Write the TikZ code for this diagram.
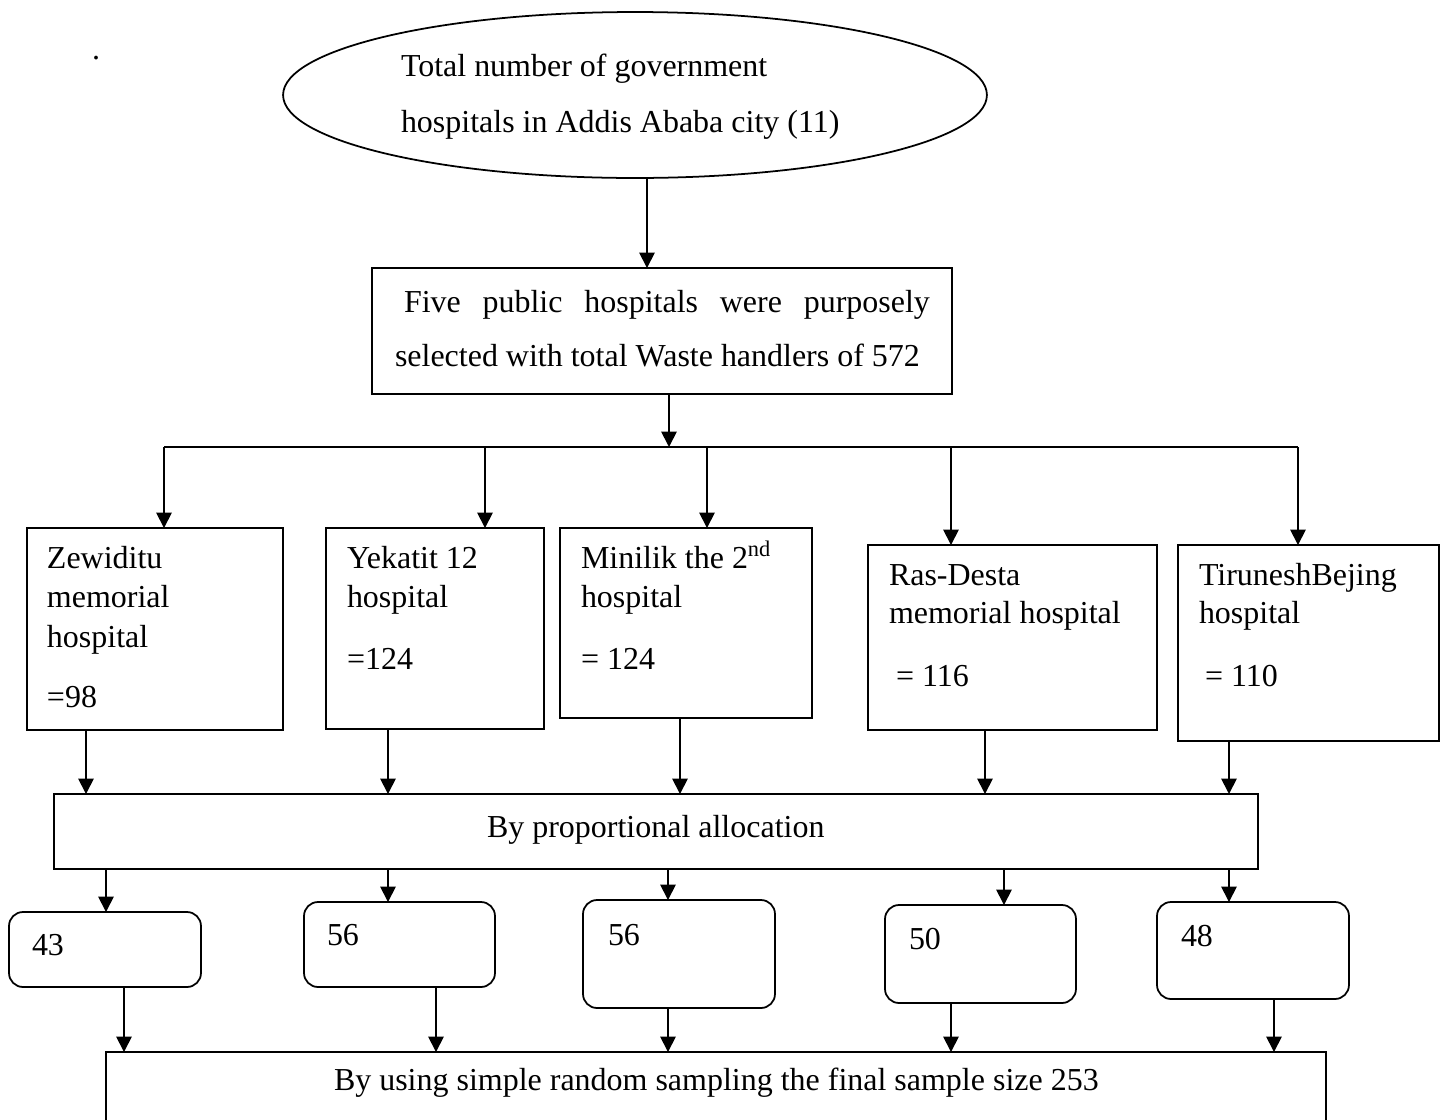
\documentclass[tikz,border=0pt]{standalone}
\usepackage{fontspec}
\setmainfont{Liberation Serif}
\usetikzlibrary{arrows.meta,shapes.geometric}
\tikzset{
  box/.style={draw, line width=1pt, inner sep=0pt, outer sep=0pt},
  rbox/.style={box, rounded corners=0.28cm},
  ebox/.style={draw, line width=1pt, ellipse, inner sep=0pt, outer sep=0pt},
  lbl/.style={anchor=base west, inner sep=0pt, outer sep=0pt, font=\fontsize{18.2}{22}\selectfont},
  con/.style={line width=1pt},
  arr/.style={con, -{Triangle[length=8.8pt,width=8.8pt]}}
}
\begin{document}
\begin{tikzpicture}[x=0.02cm,y=-0.02cm]
\useasboundingbox (0,0) rectangle (1445,1120);
\clip (0,0) rectangle (1445,1120);
% boxes
\node[ebox, minimum width=14.08cm, minimum height=3.32cm] (ell) at (635,95) {};
\node[box, minimum width=11.6cm, minimum height=2.52cm] (sel) at (662,331) {};
\node[box, minimum width=5.12cm, minimum height=4.04cm] (zew) at (155,629) {};
\node[box, minimum width=4.36cm, minimum height=4.02cm] (yek) at (435,628.5) {};
\node[box, minimum width=5.04cm, minimum height=3.8cm] (min) at (686,623) {};
\node[box, minimum width=5.78cm, minimum height=3.7cm] (ras) at (1012.5,637.5) {};
\node[box, minimum width=5.22cm, minimum height=3.92cm] (tir) at (1308.5,643) {};
\node[box, minimum width=24.08cm, minimum height=1.5cm] (prop) at (656,831.5) {};
\node[rbox, minimum width=3.84cm, minimum height=1.5cm] (b43) at (105,949.5) {};
\node[rbox, minimum width=3.82cm, minimum height=1.7cm] (b56a) at (399.5,944.5) {};
\node[rbox, minimum width=3.84cm, minimum height=2.16cm] (b56b) at (679,954) {};
\node[rbox, minimum width=3.82cm, minimum height=1.96cm] (b50) at (980.5,954) {};
\node[rbox, minimum width=3.84cm, minimum height=1.94cm] (b48) at (1253,950.5) {};
\node[box, minimum width=24.4cm, minimum height=1.76cm] (fin) at (716,1096) {};
% texts
\node[lbl] (dot) at (92,59) {.};
\node[lbl] (t1) at (401,76) {Total number of government};
\node[lbl] (t2) at (401,132) {hospitals in Addis Ababa city (11)};
\node[lbl] (s1) at (404,312) {\makebox[10.52cm][s]{Five public hospitals were purposely}};
\node[lbl] (s2) at (395,366) {selected with total Waste handlers of 572};
\node[lbl] (z1) at (47,568) {Zewiditu};
\node[lbl] (z2) at (47,607) {memorial};
\node[lbl] (z3) at (47,647) {hospital};
\node[lbl] (z4) at (47,707) {=98};
\node[lbl] (y1) at (347,568) {Yekatit 12};
\node[lbl] (y2) at (347,607) {hospital};
\node[lbl] (y3) at (347,669) {=124};
\node[lbl] (m1) at (581,568) {Minilik the 2\textsuperscript{nd}};
\node[lbl] (m2) at (581,607) {hospital};
\node[lbl] (m3) at (581,669) {= 124};
\node[lbl] (r1) at (889,585) {Ras-Desta};
\node[lbl] (r2) at (889,623) {memorial hospital};
\node[lbl] (r3) at (896,686) {= 116};
\node[lbl] (ti1) at (1199,585) {TiruneshBejing};
\node[lbl] (ti2) at (1199,623) {hospital};
\node[lbl] (ti3) at (1205,686) {= 110};
\node[lbl] (p1) at (487,837) {By proportional allocation};
\node[lbl] (n43) at (32,955) {43};
\node[lbl] (n56a) at (327,945) {56};
\node[lbl] (n56b) at (608,945) {56};
\node[lbl] (n50) at (909,949) {50};
\node[lbl] (n48) at (1181,946) {48};
\node[lbl] (f1) at (334,1090) {By using simple random sampling the final sample size 253};
% column coordinates
\coordinate (c647) at (647,0);
\coordinate (c669) at (669,0);
\coordinate (busL) at (164,447);
\coordinate (busR) at (1298,447);
\coordinate (c485) at (485,0);
\coordinate (c707) at (707,0);
\coordinate (c951) at (951,0);
\coordinate (d86) at (86,0);
\coordinate (d388) at (388,0);
\coordinate (d680) at (680,0);
\coordinate (d984) at (985,0);
\coordinate (d1229) at (1229,0);
\coordinate (e106) at (106,0);
\coordinate (e668) at (668,0);
\coordinate (e1004) at (1004,0);
\coordinate (f124) at (124,0);
\coordinate (f436) at (436,0);
\coordinate (f1274) at (1274,0);
% connectors
\draw[arr] (ell.south -| c647) -- (sel.north -| c647);
\draw[arr] (sel.south -| c669) -- (c669 |- busL);
\draw[con] (busL) -- (busR);
\draw[arr] (busL) -- (zew.north -| busL);
\draw[arr] (c485 |- busL) -- (yek.north -| c485);
\draw[arr] (c707 |- busL) -- (min.north -| c707);
\draw[arr] (c951 |- busL) -- (ras.north -| c951);
\draw[arr] (busR) -- (tir.north -| busR);
\draw[arr] (zew.south -| d86) -- (prop.north -| d86);
\draw[arr] (yek.south -| d388) -- (prop.north -| d388);
\draw[arr] (min.south -| d680) -- (prop.north -| d680);
\draw[arr] (ras.south -| d984) -- (prop.north -| d984);
\draw[arr] (tir.south -| d1229) -- (prop.north -| d1229);
\draw[arr] (prop.south -| e106) -- (b43.north -| e106);
\draw[arr] (prop.south -| d388) -- (b56a.north -| d388);
\draw[arr] (prop.south -| e668) -- (b56b.north -| e668);
\draw[arr] (prop.south -| e1004) -- (b50.north -| e1004);
\draw[arr] (prop.south -| d1229) -- (b48.north -| d1229);
\draw[arr] (b43.south -| f124) -- (fin.north -| f124);
\draw[arr] (b56a.south -| f436) -- (fin.north -| f436);
\draw[arr] (b56b.south -| e668) -- (fin.north -| e668);
\draw[arr] (b50.south -| c951) -- (fin.north -| c951);
\draw[arr] (b48.south -| f1274) -- (fin.north -| f1274);
\end{tikzpicture}
\end{document}
